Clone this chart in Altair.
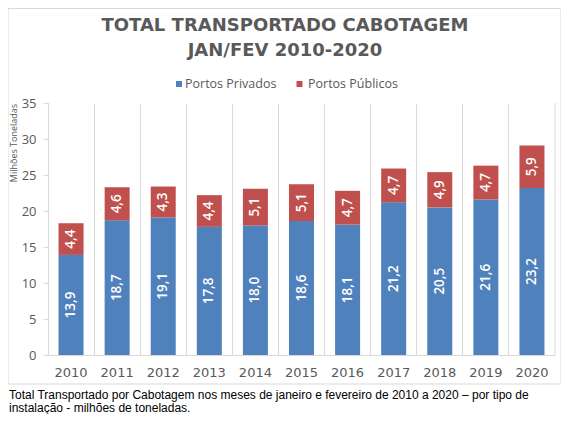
import altair as alt
import pandas as pd

years = ["2010", "2011", "2012", "2013", "2014", "2015", "2016", "2017", "2018", "2019", "2020"]
privados = [13.9, 18.7, 19.1, 17.8, 18.0, 18.6, 18.1, 21.2, 20.5, 21.6, 23.2]
publicos = [4.4, 4.6, 4.3, 4.4, 5.1, 5.1, 4.7, 4.7, 4.9, 4.7, 5.9]
series = ["Portos Privados", "Portos Públicos"]
colors = ["#4f81bd", "#c0504d"]
y_ticks = [0, 5, 10, 15, 20, 25, 30, 35]
title1 = "TOTAL TRANSPORTADO CABOTAGEM"
title2 = "JAN/FEV 2010-2020"
y_title = "Milhões Toneladas"
caption1 = "Total Transportado por Cabotagem nos meses de janeiro e fevereiro de 2010 a 2020 – por tipo de"
caption2 = "instalação - milhões de toneladas."

rows = []
for yr, a, b in zip(years, privados, publicos):
    rows.append(dict(ano=yr, serie=series[0], valor=a, y0=0.0, y1=a))
    rows.append(dict(ano=yr, serie=series[1], valor=b, y0=a, y1=a + b))
df = pd.DataFrame(rows)
df["mid"] = (df["y0"] + df["y1"]) / 2
df["label"] = df["valor"].map(lambda v: f"{v:.1f}".replace(".", ","))
years_df = pd.DataFrame({"ano": years})
one = pd.DataFrame({"a": [0]})

W, H = 507, 252
GRAY = "#595959"
GRID = "#d9d9d9"

xscale = alt.Scale(domain=years, paddingInner=0, paddingOuter=0)
x_axis = alt.Axis(title=None, labels=False, ticks=False, grid=True,
                  bandPosition=0, gridColor=GRID, domainColor=GRID)
x_enc = alt.X("ano:N", sort=years, scale=xscale, axis=x_axis)
yscale = alt.Scale(domain=[0, 35], nice=False)
y_axis = alt.Axis(title=None, values=y_ticks, tickCount=8, grid=False, domainColor=GRID,
                  tickColor=GRID, tickSize=5, labelPadding=7, labelOverlap=False,
                  labelFont="Open Sans", labelFontSize=13, labelColor=GRAY)

bars = alt.Chart(df).mark_bar(width=25).encode(
    x=x_enc,
    y=alt.Y("y1:Q", scale=yscale, axis=y_axis),
    y2="y0:Q",
    color=alt.Color("serie:N", scale=alt.Scale(domain=series, range=colors), legend=None),
)

labels = alt.Chart(df).mark_text(angle=270, color="white", font="Open Sans", fontSize=13.5,
                                 fontWeight=600).encode(
    x=x_enc,
    y=alt.Y("mid:Q", scale=yscale, axis=y_axis),
    text="label:N",
)

year_labels = alt.Chart(years_df).mark_text(
    y=270, font="DejaVu Sans", fontSize=13, color=GRAY
).encode(x=x_enc, text="ano:N")

right_rule = alt.Chart(one).mark_rule(color=GRID).encode(
    x=alt.value(W), y=alt.value(0), y2=alt.value(H))

border = alt.Chart(one).mark_rect(fillOpacity=0, stroke=GRID, strokeWidth=1).encode(
    x=alt.value(-40), x2=alt.value(513), y=alt.value(-94.5), y2=alt.value(281))

t1 = alt.Chart(one).mark_text(text=title1, font="DejaVu Sans", fontSize=18, fontWeight="bold",
                              color=GRAY).encode(
    x=alt.value(237), y=alt.value(-77))
t2 = alt.Chart(one).mark_text(text=title2, font="DejaVu Sans", fontSize=18, fontWeight="bold",
                              color=GRAY).encode(
    x=alt.value(237), y=alt.value(-52.5))

leg_sq1 = alt.Chart(one).mark_square(size=36, color=colors[0], opacity=1).encode(
    x=alt.value(131), y=alt.value(-19))
leg_sq2 = alt.Chart(one).mark_square(size=36, color=colors[1], opacity=1).encode(
    x=alt.value(251.5), y=alt.value(-19))
leg_t1 = alt.Chart(one).mark_text(text=series[0], align="left", font="Open Sans", fontSize=12.5,
                                  color=GRAY).encode(x=alt.value(137), y=alt.value(-19))
leg_t2 = alt.Chart(one).mark_text(text=series[1], align="left", font="Open Sans", fontSize=12.5,
                                  color=GRAY).encode(x=alt.value(260), y=alt.value(-19))

ytitle = alt.Chart(one).mark_text(text=y_title, angle=270, font="Open Sans", fontSize=9,
                                  color=GRAY).encode(x=alt.value(-34), y=alt.value(40))

cap1 = alt.Chart(one).mark_text(text=caption1, align="left", font="Liberation Sans", fontSize=12,
                                color="black").encode(x=alt.value(-39), y=alt.value(292))
cap2 = alt.Chart(one).mark_text(text=caption2, align="left", font="Liberation Sans", fontSize=12,
                                color="black").encode(x=alt.value(-39), y=alt.value(305))

chart = alt.layer(
    border, right_rule, bars, labels, year_labels, t1, t2,
    leg_sq1, leg_sq2, leg_t1, leg_t2, ytitle, cap1, cap2
).properties(
    width=W, height=H,
    padding={"left": 40, "top": 95, "right": 6, "bottom": 59},
    autosize=alt.AutoSizeParams(type="none"),
).configure_view(stroke=None)

chart.save("out.html", embed_options={"renderer": "svg", "actions": False})
